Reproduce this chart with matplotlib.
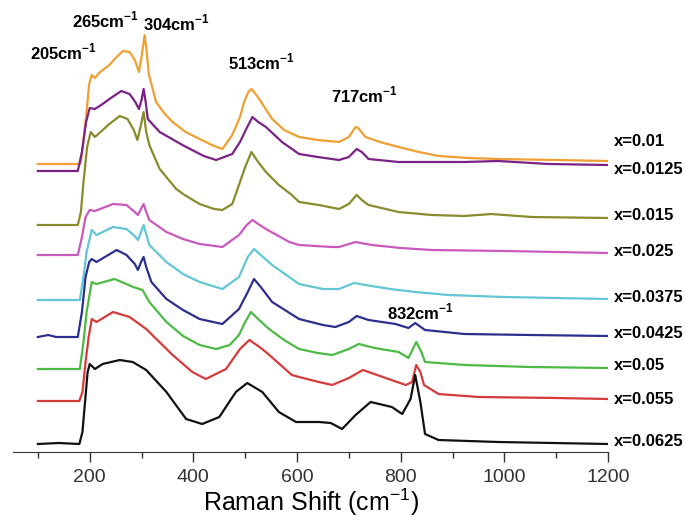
import matplotlib
matplotlib.use("Agg")
import matplotlib.pyplot as plt
from matplotlib.ticker import MultipleLocator

plt.rcParams["font.family"] = ["Liberation Sans", "DejaVu Sans"]
plt.rcParams["mathtext.fontset"] = "custom"
plt.rcParams["mathtext.rm"] = "Liberation Sans"
plt.rcParams["mathtext.bf"] = "Liberation Sans:bold"

# offset Raman intensities (a.u.), top to bottom
x001 = [100, 181, 183, 192, 199, 204, 210, 220, 238, 250, 264, 277, 287, 295, 300, 306, 310, 314, 328,
        345, 360, 385, 412, 440, 456, 475, 490, 498, 506, 512, 520, 527, 552, 575, 604, 640, 681, 700,
        713, 718, 732, 760, 796, 835, 873, 930, 988, 1100, 1200]
y001 = [288, 288, 290, 330, 368, 377, 374, 380, 387, 394, 401, 400, 392, 380, 395, 417, 400, 378, 350,
        338, 330, 320, 313, 306, 303, 317, 335, 350, 360, 363, 358, 353, 333, 322, 315, 312, 310, 315,
        325, 324, 315, 310, 305, 300, 296, 294, 293, 292, 291]

x0125 = [100, 177, 185, 193, 200, 210, 225, 238, 261, 277, 288, 295, 300, 304, 308, 312, 335, 379, 420,
         444, 475, 490, 502, 514, 525, 540, 571, 604, 640, 681, 700, 715, 725, 738, 796, 923, 988, 1085,
         1200]
y0125 = [281, 281, 300, 330, 344, 343, 348, 353, 361, 358, 350, 343, 352, 363, 350, 333, 320, 307, 296,
         292, 298, 310, 323, 335, 330, 325, 310, 298, 295, 292, 295, 303, 300, 293, 290, 290, 291, 288,
         287]

x015 = [100, 177, 183, 188, 195, 202, 210, 238, 258, 273, 285, 292, 298, 304, 309, 315, 335, 367, 383,
        412, 440, 456, 475, 488, 500, 512, 525, 540, 565, 590, 604, 642, 681, 700, 715, 725, 738, 796,
        860, 923, 975, 1052, 1200]
y015 = [227, 227, 240, 270, 305, 320, 315, 328, 336, 333, 322, 312, 325, 340, 320, 307, 283, 263, 257,
        248, 243, 242, 248, 267, 285, 300, 290, 280, 267, 257, 250, 247, 243, 248, 257, 252, 247, 240,
        237, 236, 238, 235, 234]

x025 = [100, 177, 185, 192, 200, 210, 245, 271, 287, 293, 299, 304, 309, 315, 348, 380, 412, 456, 488,
        503, 514, 525, 540, 585, 604, 667, 681, 713, 744, 800, 860, 1000, 1200]
y025 = [197, 197, 215, 235, 242, 241, 248, 247, 240, 237, 243, 248, 240, 232, 220, 213, 208, 205, 217,
        227, 232, 228, 223, 210, 207, 205, 205, 210, 207, 204, 202, 201, 199]

x0375 = [100, 181, 188, 194, 204, 213, 245, 271, 287, 293, 299, 304, 309, 315, 348, 380, 412, 456, 488,
         505, 517, 530, 552, 604, 650, 681, 710, 732, 780, 828, 892, 1000, 1200]
y0375 = [152, 152, 175, 200, 222, 217, 225, 223, 216, 212, 220, 227, 218, 207, 190, 178, 170, 163, 175,
         195, 203, 197, 187, 168, 163, 163, 169, 167, 163, 160, 157, 155, 153]

x0425 = [100, 120, 135, 177, 185, 192, 199, 204, 213, 252, 271, 287, 293, 299, 304, 309, 319, 348, 380,
         412, 456, 488, 505, 517, 530, 552, 604, 650, 674, 700, 715, 738, 790, 815, 828, 847, 923, 1050,
         1200]
y0425 = [115, 117, 115, 115, 140, 175, 190, 193, 190, 202, 197, 188, 182, 190, 195, 185, 170, 153, 142,
         133, 128, 143, 160, 173, 165, 150, 133, 127, 125, 130, 136, 132, 128, 124, 129, 122, 118, 117,
         116]

x05 = [100, 181, 188, 194, 204, 213, 248, 284, 302, 315, 348, 380, 412, 444, 470, 488, 500, 511, 525,
       546, 575, 604, 640, 668, 700, 719, 750, 796, 815, 830, 840, 847, 923, 1050, 1200]
y05 = [83, 83, 110, 140, 170, 168, 173, 165, 162, 150, 130, 116, 107, 103, 107, 117, 130, 140, 133,
       123, 112, 103, 99, 97, 103, 108, 104, 100, 94, 110, 100, 90, 87, 85, 84]

x055 = [100, 180, 186, 192, 198, 204, 213, 245, 277, 309, 360, 398, 424, 463, 490, 508, 525, 540, 590,
        604, 642, 668, 700, 727, 760, 810, 822, 830, 838, 845, 873, 950, 1100, 1200]
y055 = [51, 51, 60, 90, 115, 133, 130, 140, 135, 123, 97, 80, 73, 83, 103, 112, 106, 100, 77,
        75, 70, 67, 74, 82, 76, 67, 70, 87, 80, 67, 58, 55, 54, 53]

x0625 = [100, 140, 180, 186, 191, 196, 200, 210, 225, 258, 283, 309, 348, 386, 417, 450, 482, 504, 533,
         565, 598, 642, 665, 687, 713, 742, 783, 803, 819, 828, 838, 847, 873, 988, 1200]
y0625 = [8, 9, 8, 20, 50, 80, 88, 83, 88, 92, 90, 82, 60, 33, 28, 35, 60, 69, 60,
         40, 30, 30, 29, 23, 37, 50, 45, 38, 53, 77, 50, 18, 12, 10, 8]

labels = ["x=0.01", "x=0.0125", "x=0.015", "x=0.025", "x=0.0375",
          "x=0.0425", "x=0.05", "x=0.055", "x=0.0625"]
label_y = [310, 282, 237, 200, 155, 118, 87, 52, 10]
colors = ["#F0A033", "#7A2285", "#8A8A2E", "#C85ABD", "#62C6D6",
          "#2B2F8E", "#4DBA45", "#D63B3B", "#111111"]

peaks = ["205", "265", "304", "513", "717", "832"]
peak_x = [150, 231, 367, 531, 731, 838]
peak_y = [400, 432, 429, 390, 357, 140]

series = [(x001, y001), (x0125, y0125), (x015, y015), (x025, y025), (x0375, y0375),
          (x0425, y0425), (x05, y05), (x055, y055), (x0625, y0625)]

fig = plt.figure(figsize=(6.86, 5.23), dpi=100)
ax = fig.add_axes([13 / 686, 71 / 523, 595 / 686, 452 / 523])

for (xs, ys), c, lab, ly in zip(series, colors, labels, label_y):
    ax.plot(xs, ys, color=c, lw=1.6)
    ax.text(1212, ly, lab, fontsize=12, fontweight="bold", ha="left", va="center", clip_on=False)

for p, px, py in zip(peaks, peak_x, peak_y):
    ax.text(px, py, p + r"cm$^{\mathbf{-1}}$", fontsize=12, fontweight="bold", ha="center", va="center")

ax.set_xlim(52, 1200)
ax.set_ylim(0, 452)
for s in ("left", "right", "top"):
    ax.spines[s].set_visible(False)
ax.spines["bottom"].set_color("#333333")
ax.set_yticks([])
ax.xaxis.set_major_locator(MultipleLocator(200))
ax.xaxis.set_minor_locator(MultipleLocator(100))
ax.set_xticks([200, 400, 600, 800, 1000, 1200])
ax.tick_params(axis="x", which="major", direction="out", length=7, width=1, labelsize=14, pad=5,
               colors="#333333")
ax.tick_params(axis="x", which="minor", direction="out", length=4, width=1, colors="#333333")
ax.set_xlabel("Raman Shift (cm$^{-1}$)", fontsize=18, labelpad=1)

fig.savefig("out.png", dpi=100)
